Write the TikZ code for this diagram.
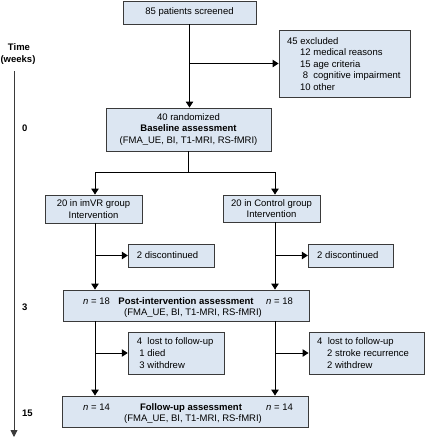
\documentclass[tikz,border=0pt]{standalone}
\usepackage{fontspec}
\setmainfont{Liberation Sans}
\usetikzlibrary{arrows.meta}
\definecolor{boxfill}{HTML}{DCE6F2}
\definecolor{boxdraw}{HTML}{3A3A3A}
\begin{document}
\begin{tikzpicture}[x=1pt,y=-1pt,
  font=\fontsize{9.5}{11.5}\selectfont,
  box/.style={draw=boxdraw,fill=boxfill,line width=0.9pt,inner sep=0pt,align=center},
  conn/.style={line width=0.9pt,-{Triangle[width=7.5pt,length=6pt]}},
  plain/.style={line width=0.9pt},
  ltxt/.style={inner sep=0pt,anchor=west,align=left},
  txt/.style={inner sep=0pt,anchor=base west},
  ctxt/.style={inner sep=0pt,anchor=base},
  tl/.style={inner sep=0pt,font=\fontsize{9.5}{11.5}\selectfont\bfseries}
]
\useasboundingbox (0,0) rectangle (426,440);
% boxes
\node[box,minimum width=133pt,minimum height=23pt] (screen) at (189.5,12.5) {85 patients screened};
\node[box,minimum width=131pt,minimum height=67pt] (excl) at (344.5,63.5) {};
\node[ltxt] (excltxt) at (287,64)
 {45 excluded\\
  \hspace*{13pt}12 medical reasons\\
  \hspace*{13pt}15 age criteria\\
  \hspace*{13pt}\makebox[10.6pt][c]{8}\ cognitive impairment\\
  \hspace*{13pt}10 other};
\node[box,minimum width=165pt,minimum height=43pt] (base) at (188.5,129.5)
 {40 randomized\\ \textbf{Baseline assessment}\\ (FMA\_UE, BI, T1-MRI, RS-fMRI)};
\node[box,minimum width=97pt,minimum height=28pt] (imvr) at (93.5,209) {20 in imVR group\\ Intervention};
\node[box,minimum width=97pt,minimum height=27pt] (ctrl) at (271.5,208.5) {20 in Control group\\ Intervention};
\node[box,minimum width=86pt,minimum height=23pt] (disc1) at (171.3,255.5) {};
\node[ltxt] (disc1txt) at (136.7,255.5) {2 discontinued};
\node[box,minimum width=85pt,minimum height=23pt] (disc2) at (350.8,255.5) {};
\node[ltxt] (disc2txt) at (317,255.5) {2 discontinued};
\node[box,minimum width=246pt,minimum height=31pt] (post) at (186,305.5) {};
\node[box,minimum width=96pt,minimum height=42pt] (lost1) at (176.2,353) {};
\node[ltxt,font=\fontsize{9.5}{12}\selectfont] (lost1txt) at (136.7,353.5)
 {4\ \ lost to follow-up\\ \hspace*{2.6pt}1 died\\ \hspace*{2.6pt}3 withdrew};
\node[box,minimum width=115pt,minimum height=42pt] (lost2) at (366.5,353) {};
\node[ltxt,font=\fontsize{9.5}{12}\selectfont] (lost2txt) at (317,353.5)
 {4\ \ lost to follow-up\\ \hspace*{10pt}2 stroke recurrence\\ \hspace*{10pt}2 withdrew};
\node[box,minimum width=246pt,minimum height=31pt] (follow) at (185,411.5) {};
% texts in wide boxes
\node[txt] (postL) at (83,304.5) {\textit{n} = 18};
\node[ctxt] (postT) at (186,304.5) {\textbf{Post-intervention assessment}};
\node[txt] (postR) at (266,304.5) {\textit{n} = 18};
\node[ctxt] (postS) at (193,315.5) {(FMA\_UE, BI, T1-MRI, RS-fMRI)};
\node[txt] (folL) at (83,410.5) {\textit{n} = 14};
\node[ctxt] (folT) at (191,410.5) {\textbf{Follow-up assessment}};
\node[txt] (folR) at (266,410.5) {\textit{n} = 14};
\node[ctxt] (folS) at (193,421.5) {(FMA\_UE, BI, T1-MRI, RS-fMRI)};
% time axis
\node[tl] (time) at (19,47) {Time};
\node[tl] (weeks) at (18,60) {(weeks)};
\coordinate (ax0) at (14,71);
\coordinate (ax1) at (14,437);
\draw[line width=0.9pt,draw=boxdraw,-{Triangle[width=7pt,length=7pt]}] (ax0) -- (ax1);
\node[tl,anchor=west] (w0) at (22,128) {0};
\node[tl,anchor=west] (w3) at (22,307) {3};
\node[tl,anchor=west] (w15) at (22,413) {15};
% coordinates
\coordinate (sp) at (188.5,172);
\coordinate (cL) at (95,172);
\coordinate (cR) at (275,172);
% connectors
\draw[conn] (screen.south) -- (screen.south |- base.north);
\draw[conn] (screen.south |- excl.west) -- (excl.west);
\draw[plain] (base.south) -- (sp);
\draw[plain] (cL) -- (cR);
\draw[conn] (cL) -- (cL |- imvr.north);
\draw[conn] (cR) -- (cR |- ctrl.north);
\draw[conn] (cL |- imvr.south) -- (cL |- post.north);
\draw[conn] (cR |- ctrl.south) -- (cR |- post.north);
\draw[conn] (cL |- disc1.west) -- (disc1.west);
\draw[conn] (cR |- disc2.west) -- (disc2.west);
\draw[conn] (cL |- post.south) -- (cL |- follow.north);
\draw[conn] (cR |- post.south) -- (cR |- follow.north);
\draw[conn] (cL |- lost1.west) -- (lost1.west);
\draw[conn] (cR |- lost2.west) -- (lost2.west);
\end{tikzpicture}
\end{document}
